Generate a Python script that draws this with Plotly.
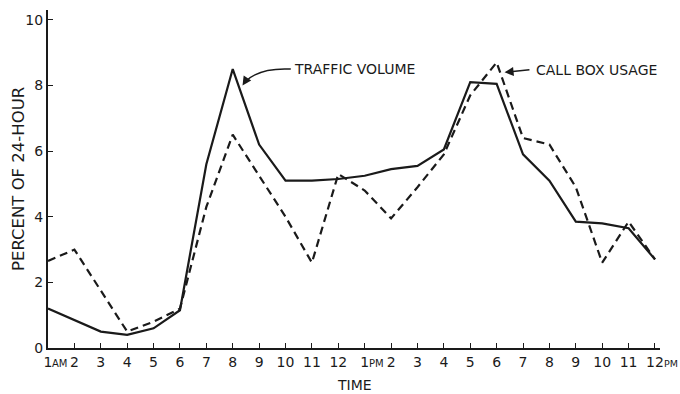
import plotly.graph_objects as go

# Hour positions (1AM ... 12PM) and their tick labels
hours = list(range(24))
tick_labels = ["1", "2", "3", "4", "5", "6", "7", "8", "9", "10", "11", "12",
               "1", "2", "3", "4", "5", "6", "7", "8", "9", "10", "11", "12"]
meridiem_marks = [(0, "AM"), (12, "PM"), (23, "PM")]

# Percent of 24-hour total
traffic_volume = [1.2, 0.85, 0.5, 0.4, 0.6, 1.15, 5.6, 8.5, 6.2, 5.1, 5.1, 5.15,
                  5.25, 5.45, 5.55, 6.05, 8.1, 8.05, 5.9, 5.1, 3.85, 3.8, 3.65, 2.7]
call_box_usage = [2.65, 3.0, 1.75, 0.5, 0.8, 1.2, 4.3, 6.5, 5.25, 4.0, 2.6, 5.3,
                  4.8, 3.95, 4.9, 5.9, 7.7, 8.7, 6.4, 6.2, 4.9, 2.6, 3.85, 2.7]

y_ticks = [0, 2, 4, 6, 8, 10]

FONT = "DejaVu Sans"
INK = "#1a1a1a"

fig = go.Figure()
fig.add_trace(go.Scatter(x=hours, y=traffic_volume, mode="lines", name="TRAFFIC VOLUME",
                         line=dict(color=INK, width=2.2)))
fig.add_trace(go.Scatter(x=hours, y=call_box_usage, mode="lines", name="CALL BOX USAGE",
                         line=dict(color=INK, width=2.2, dash="8px,5px")))

# curved leader for TRAFFIC VOLUME
fig.add_shape(type="path", xref="x", yref="y",
              path="M 9.2,8.5 Q 8.0,8.55 7.45,8.1",
              line=dict(color=INK, width=1.5))
fig.add_annotation(x=7.37, y=8.0, ax=7.55, ay=8.22, xref="x", yref="y", axref="x", ayref="y",
                   text="", showarrow=True, arrowhead=2, arrowsize=1.2, arrowwidth=1.5, arrowcolor=INK)
fig.add_annotation(x=9.25, y=8.5, xref="x", yref="y", text="TRAFFIC VOLUME", showarrow=False,
                   xanchor="left", yanchor="middle", font=dict(family=FONT, size=14, color=INK))

# leader for CALL BOX USAGE
fig.add_annotation(x=17.3, y=8.4, ax=18.3, ay=8.48, xref="x", yref="y", axref="x", ayref="y",
                   text="", showarrow=True, arrowhead=2, arrowsize=1.2, arrowwidth=1.5, arrowcolor=INK)
fig.add_annotation(x=18.4, y=8.48, xref="x", yref="y", text="CALL BOX USAGE", showarrow=False,
                   xanchor="left", yanchor="middle", font=dict(family=FONT, size=14, color=INK))

# AM / PM suffixes beside the hour numerals
for pos, mark in meridiem_marks:
    fig.add_annotation(x=pos, y=0, xref="x", yref="paper", text=mark, showarrow=False,
                       xanchor="left", yanchor="middle", borderpad=0,
                       xshift=(3 if pos < 20 else 8), yshift=-15,
                       font=dict(family=FONT, size=(10 if pos < 20 else 9.5), color=INK))

# axis titles
fig.add_annotation(x=0.5, y=0, xref="paper", yref="paper", text="TIME", showarrow=False,
                   xanchor="center", yanchor="middle", yshift=-37,
                   font=dict(family=FONT, size=14, color=INK))
fig.add_annotation(x=0, y=0.5, xref="paper", yref="paper", text="PERCENT OF 24-HOUR", showarrow=False,
                   textangle=-90, xanchor="center", yanchor="middle", xshift=-30,
                   font=dict(family=FONT, size=16.5, color=INK))

fig.update_layout(
    width=680, height=394,
    margin=dict(l=48, r=20, t=10, b=46),
    paper_bgcolor="white", plot_bgcolor="white",
    showlegend=False,
    font=dict(family=FONT, size=14, color=INK),
    xaxis=dict(range=[0, 23.19], tickvals=hours, ticktext=tick_labels, tickangle=0, automargin=False,
               showline=True, linecolor=INK, linewidth=2, showgrid=False, zeroline=False,
               ticks="inside", ticklen=5, tickcolor=INK, tickwidth=1,
               tickfont=dict(family=FONT, size=14, color=INK)),
    yaxis=dict(range=[0, 10.3], tickvals=y_ticks, automargin=False,
               showline=True, linecolor=INK, linewidth=2, showgrid=False, zeroline=False,
               ticks="inside", ticklen=5, tickcolor=INK, tickwidth=1,
               tickfont=dict(family=FONT, size=14, color=INK)),
)

# remove the browser's default 8px body margin so the figure fills the window exactly
fig.write_html("out.html", config={"displayModeBar": False},
               post_script="document.body.style.margin='0';document.body.style.overflow='hidden';")
